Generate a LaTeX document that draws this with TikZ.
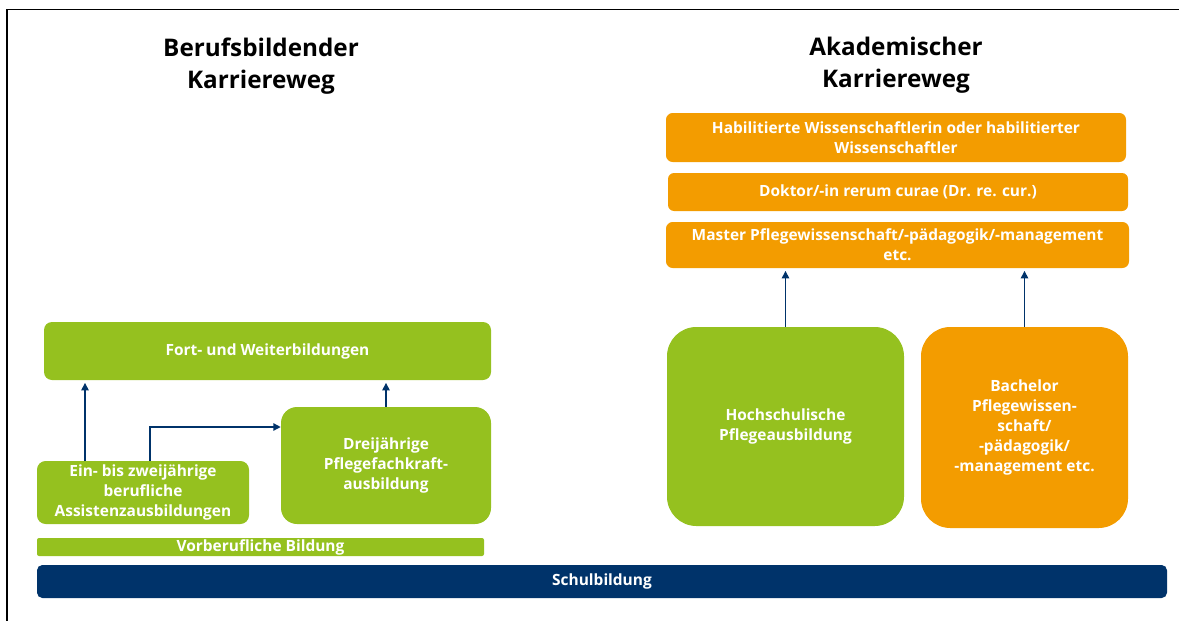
\documentclass[tikz,border=0pt]{standalone}
\usepackage{fontspec}
\setmainfont{Open Sans}
\usetikzlibrary{arrows.meta}
\definecolor{gruen}{HTML}{95C11F}
\definecolor{orange}{HTML}{F39C00}
\definecolor{blau}{HTML}{00336A}
\tikzset{
	kasten/.style = {fill = #1, text = white, align = center, inner sep = 0pt,
		font = \bfseries\fontsize{11.6}{15}\selectfont},
	pfeil/.style = {-{Triangle[length = 5.5pt, width = 5.5pt]}, draw = blau, line width = 1pt},
	titel/.style = {align = center, font = \bfseries\fontsize{18.2}{24}\selectfont}
}
\begin{document}
\begin{tikzpicture}[x = .75pt, y = -.75pt]
	\useasboundingbox (0,0) rectangle (1179,621);
	\draw[line width = .9pt] (7,621)--(7,9.5)--(1179,9.5);
	% Titel
	\node[titel] (tberuf) at (261,66) {Berufsbildender\\Karriereweg};
	\node[titel] (takad) at (896,65) {Akademischer\\Karriereweg};
	% akademisch
	\node[kasten = orange, rounded corners = 5pt, minimum width = 345pt, minimum height = 36.75pt] (habil) at (896,137.5)
		{Habilitierte Wissenschaftlerin oder habilitierter\\Wissenschaftler};
	\node[kasten = orange, rounded corners = 4.5pt, minimum width = 345pt, minimum height = 28.5pt] (doktor) at (898,192)
		{Doktor/-in rerum curae (Dr. re. cur.)};
	\node[kasten = orange, rounded corners = 5pt, minimum width = 347.25pt, minimum height = 34.5pt] (master) at (897.5,245)
		{Master Pflegewissenschaft/-pädagogik/-management\\etc.};
	\node[kasten = gruen, rounded corners = 22pt, minimum width = 177.75pt, minimum height = 149.25pt] (hochschul) at (785.5,426.5)
		{Hochschulische\\Pflegeausbildung};
	\node[kasten = orange, rounded corners = 22pt, minimum width = 155.25pt, minimum height = 150.75pt] (bachelor) at (1024.5,427.5)
		{Bachelor\\Pflegewissen-\\schaft/\\-pädagogik/\\-management etc.};
	% berufsbildend
	\node[kasten = gruen, rounded corners = 6pt, minimum width = 335.25pt, minimum height = 43.5pt] (fort) at (267.5,351)
		{Fort- und Weiterbildungen};
	\node[kasten = gruen, rounded corners = 6.5pt, minimum width = 159pt, minimum height = 47.25pt] (assistenz) at (143,492.5)
		{Ein- bis zweijährige\\berufliche\\Assistenzausbildungen};
	\node[kasten = gruen, rounded corners = 12pt, minimum width = 157.5pt, minimum height = 87.75pt] (dreijahr) at (386,465.5)
		{Dreijährige\\Pflegefachkraft-\\ausbildung};
	\node[kasten = gruen, rounded corners = 1.5pt, minimum width = 335.25pt, minimum height = 13.5pt] (vorberuf) at (260.5,547)
		{Vorberufliche Bildung};
	\node[kasten = blau, rounded corners = 4pt, minimum width = 847.5pt, minimum height = 24.75pt] (schul) at (602,581.5)
		{Schulbildung};
	% Pfeile
	\coordinate (links) at (85,0);
	\coordinate (knick) at (150,427);
	\draw[pfeil, shorten > = 2pt] (assistenz.north -| links)--(fort.south -| links);
	\draw[pfeil] (assistenz.north -| knick) |- (dreijahr.west |- knick);
	\draw[pfeil, shorten > = 2pt] (dreijahr.north)--(fort.south -| dreijahr.north);
	\draw[pfeil, shorten > = 2pt] (hochschul.north)--(master.south -| hochschul.north);
	\draw[pfeil, shorten > = 2pt] (bachelor.north)--(master.south -| bachelor.north);
\end{tikzpicture}
\end{document}
